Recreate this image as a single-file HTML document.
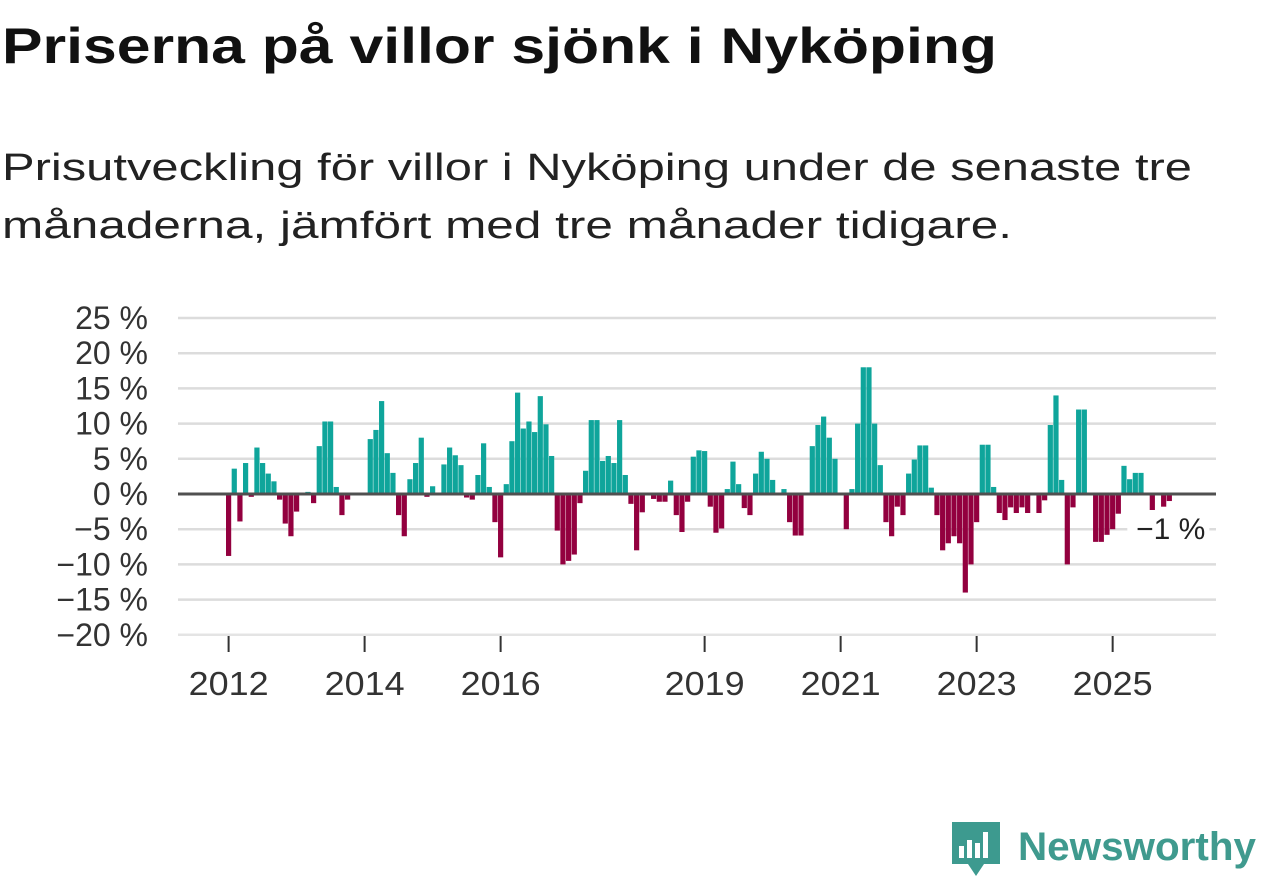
<!DOCTYPE html>
<html><head><meta charset="utf-8"><style>
html,body{margin:0;padding:0;background:#fff;}
svg{display:block;font-family:"Liberation Sans","DejaVu Sans",sans-serif;}
</style></head><body>
<svg id="chart" width="1262" height="879" viewBox="0 0 1262 879">
<text x="2" y="63" font-size="50" font-weight="bold" fill="#111" textLength="995" lengthAdjust="spacingAndGlyphs">Priserna på villor sjönk i Nyköping</text>
<text x="2" y="180" font-size="38" fill="#222" textLength="1190" lengthAdjust="spacingAndGlyphs">Prisutveckling för villor i Nyköping under de senaste tre</text>
<text x="2" y="238" font-size="38" fill="#222" textLength="1010" lengthAdjust="spacingAndGlyphs">månaderna, jämfört med tre månader tidigare.</text>
<g id="grid"></g>
<g id="bars"></g>
<g id="xaxis"></g>
<g>
<path d="M952 822 h48 v42 h-16 l-8 12 l-8 -12 h-16 z" fill="#3d9a8f"/>
<rect x="959" y="846" width="5" height="12" fill="#fff"/><rect x="967" y="840" width="5" height="18" fill="#fff"/><rect x="975" y="843" width="5" height="15" fill="#fff"/><rect x="983" y="832" width="5" height="26" fill="#fff"/>
<text x="1018" y="860" font-size="40" font-weight="bold" fill="#3f9a8e" textLength="238" lengthAdjust="spacingAndGlyphs">Newsworthy</text>
</g>
</svg>
<script>
const values = [-8.8,3.6,-3.9,4.4,-0.4,6.6,4.4,2.9,1.8,-0.8,-4.2,-6.0,-2.5,0,0.3,-1.3,6.8,10.3,10.3,1.0,-3.0,-0.8,0,0,
0,7.8,9.1,13.2,5.8,3.0,-3.0,-6.0,2.1,4.4,8.0,-0.4,1.1,0,4.2,6.6,5.5,4.1,-0.5,-0.8,2.7,7.2,1.0,-4.0,
-9.0,1.4,7.5,14.4,9.3,10.3,8.8,13.9,9.9,5.4,-5.2,-10.0,-9.5,-8.6,-1.3,3.3,10.5,10.5,4.7,5.4,4.4,10.5,2.7,-1.4,
-8.0,-2.6,0.2,-0.7,-1.1,-1.1,1.9,-3.0,-5.4,-1.1,5.3,6.2,6.1,-1.8,-5.5,-4.9,0.7,4.6,1.4,-2.0,-3.0,2.9,6.0,5.0,
2.0,0,0.7,-4.0,-5.9,-5.9,0,6.8,9.8,11.0,8.0,5.0,0,-5.0,0.7,10.0,18.0,18.0,10.0,4.1,-4.0,-6.0,-1.8,-3.0,
2.9,4.9,6.9,6.9,0.9,-3.0,-8.0,-7.0,-6.0,-7.0,-14.0,-10.0,-4.0,7.0,7.0,1.0,-2.7,-3.7,-1.9,-2.7,-1.9,-2.7,0,-2.7,
-0.9,9.8,14.0,2.0,-10.0,-1.9,12.0,12.0,0,-6.8,-6.8,-5.8,-5.0,-2.8,4.0,2.1,3.0,3.0,0,-2.4,0,-1.8,-1.0];
const yTicks = [25,20,15,10,5,0,-5,-10,-15,-20];
const yTickLabels = ["25 %","20 %","15 %","10 %","5 %","0 %","\u22125 %","\u221210 %","\u221215 %","\u221220 %"];
const xTickMonths = [0,24,48,84,108,132,156];
const xTickLabels = ["2012","2014","2016","2019","2021","2023","2025"];
const lastLabel = "\u22121 %";

const NS="http://www.w3.org/2000/svg";
const y = v => 494 - v*7.04;
const x = i => 228.6 + i*5.667;
function mk(tag, attrs, parent){const e=document.createElementNS(NS,tag);for(const k in attrs)e.setAttribute(k,attrs[k]);parent.appendChild(e);return e;}
const grid=document.getElementById('grid'), bars=document.getElementById('bars'), xa=document.getElementById('xaxis');
yTicks.forEach((t,k)=>{
  if(t!==0){const l=mk('line',{x1:178,x2:1216,y1:y(t),y2:y(t),stroke:t===-20?'#e4e4e4':'#dcdcdc','stroke-width':2.5},grid);
  
  }
  const tx=mk('text',{x:148,y:y(t)+11,'font-size':32,'text-anchor':'end',fill:'#333'},grid);
  tx.textContent=yTickLabels[k];
  
  
});
values.forEach((v,i)=>{
  if(v===0)return;
  const r=mk('rect',{x:x(i)-2.6,width:5.2,y:Math.min(y(v),y(0)),height:Math.abs(y(v)-y(0)),fill:v>0?'#0fa59b':'#93003f'},bars);
  
  
});
const zl=mk('line',{x1:178,x2:1216,y1:y(0),y2:y(0),stroke:'#505050','stroke-width':3},bars);


xTickMonths.forEach((m,k)=>{
  const t=mk('line',{x1:x(m),x2:x(m),y1:636,y2:652,stroke:'#333','stroke-width':2},xa);
  
  
  const tx=mk('text',{x:x(m)-40,y:695,'font-size':33,fill:'#333',textLength:80,lengthAdjust:'spacingAndGlyphs'},xa);
  tx.textContent=xTickLabels[k];
  
  
});
const li=values.length-1;
const bg=mk('rect',{x:x(li)-42,y:510,width:82,height:34,fill:'#fff'},xa);


const lt=mk('text',{x:x(li)+36,y:539,'font-size':30,'text-anchor':'end',fill:'#222'},xa);
lt.textContent=lastLabel;


</script>
</body></html>
